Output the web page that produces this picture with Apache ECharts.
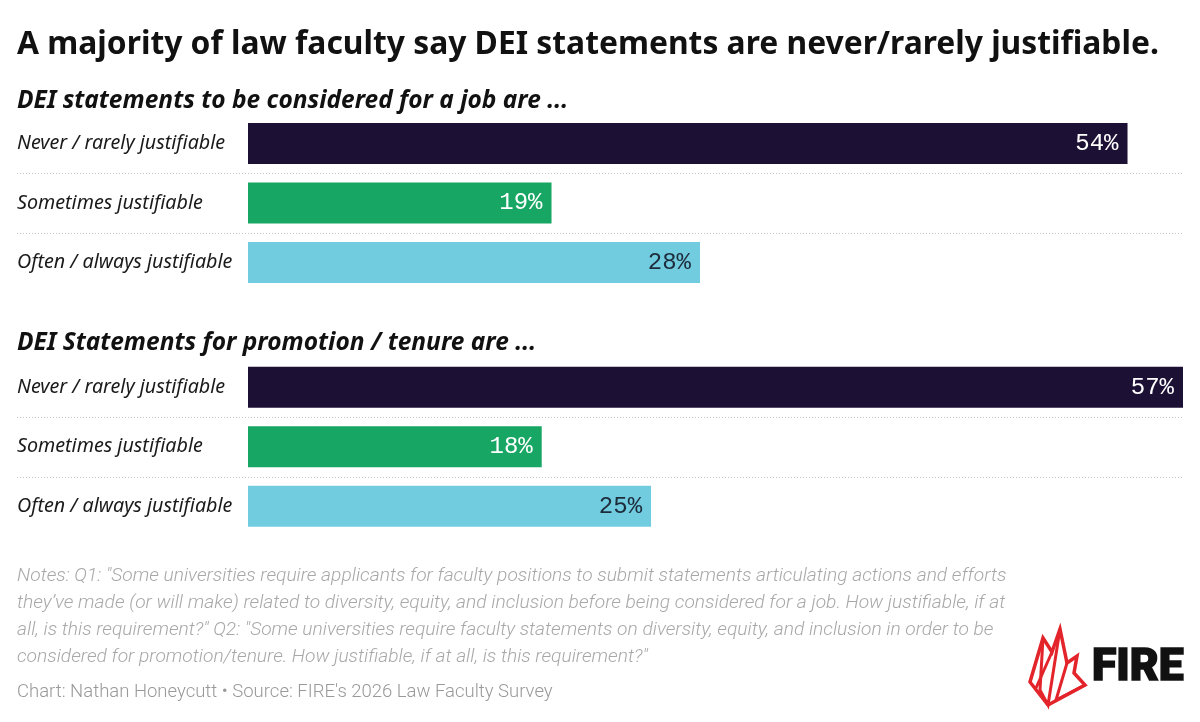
<!DOCTYPE html>
<html>
<head>
<meta charset="utf-8">
<script src="https://cdn.jsdelivr.net/npm/echarts@6/dist/echarts.min.js"></script>
<style>
  html, body { margin: 0; padding: 0; background: #fff; }
  #chart { width: 1200px; height: 722px; }
</style>
</head>
<body>
<div id="chart"></div>
<script>
// data
var categories = ["Never / rarely justifiable", "Sometimes justifiable", "Often / always justifiable"];
var jobValues = [53.9, 18.6, 27.7];
var tenureValues = [57.3, 18.0, 24.7];

var barColors = ["#1d1035", "#17a663", "#71cce0"];
var labelColors = ["#ffffff", "#ffffff", "#1d2b3a"];

var titleText = "A majority of law faculty say DEI statements are never/rarely justifiable.";
var sub1 = "DEI statements to be considered for a job are ...";
var sub2 = "DEI Statements for promotion / tenure are ...";
var notes = [
  "Notes: Q1: \"Some universities require applicants for faculty positions to submit statements articulating actions and efforts",
  "they\u2019ve made (or will make) related to diversity, equity, and inclusion before being considered for a job. How justifiable, if at",
  "all, is this requirement?\" Q2: \"Some universities require faculty statements on diversity, equity, and inclusion in order to be",
  "considered for promotion/tenure. How justifiable, if at all, is this requirement?\""
];
var source = "Chart: Nathan Honeycutt \u2022 Source: FIRE's 2026 Law Faculty Survey";

var xMax = 57.3;
var rowH = 59.5;
var gridTops = [113.75, 357.5];
var sansFont = "'Noto Sans', sans-serif";

var myChart = echarts.init(document.getElementById('chart'));

function makeData(vals) {
  return vals.map(function (v, i) {
    return {
      value: v,
      itemStyle: { color: barColors[i] },
      label: { color: labelColors[i] }
    };
  });
}

function txt(x, y, text, size, weight, style, color, family) {
  return {
    type: 'text', x: x, y: y, silent: true,
    style: {
      text: text, fontSize: size, fontWeight: weight, fontStyle: style,
      fontFamily: family || sansFont, fill: color,
      textAlign: 'left', textVerticalAlign: 'middle', align: 'left', verticalAlign: 'middle'
    }
  };
}

// dotted separators between rows
var graphics = [];
gridTops.forEach(function (t) {
  [1, 2].forEach(function (k) {
    var y = Math.round(t + rowH * k) + 0.5;
    graphics.push({
      type: 'line', silent: true,
      shape: { x1: 17, y1: y, x2: 1183, y2: y },
      style: { stroke: '#c4c4c4', lineWidth: 1, lineDash: [1, 2] }
    });
  });
});

graphics.push(txt(17, 45, titleText, 31.8, 'bold', 'normal', '#111'));
graphics.push(txt(17, 101, sub1, 24.5, 'bold', 'italic', '#111'));
graphics.push(txt(17, 343, sub2, 24.5, 'bold', 'italic', '#111'));
notes.forEach(function (line, i) {
  graphics.push(txt(17, 576 + i * 27, line, 19.2, 300, 'italic', '#a8a8a8', "Roboto, sans-serif"));
});
graphics.push(txt(17, 692, source, 18.5, 300, 'normal', '#999', "Roboto, sans-serif"));

// FIRE logo
graphics.push({
  type: 'polyline', silent: true,
  shape: { points: [[1048, 705], [1030, 682], [1043, 638], [1052, 652], [1060, 629], [1067, 663], [1077, 656], [1074, 673], [1085, 685], [1048, 705]] },
  style: { stroke: '#e3242b', lineWidth: 3.5, fill: null, lineJoin: 'miter' }
});
graphics.push({
  type: 'polyline', silent: true,
  shape: { points: [[1043, 638], [1040, 690], [1048, 705], [1060, 629]] },
  style: { stroke: '#e3242b', lineWidth: 3, fill: null }
});
graphics.push({
  type: 'polyline', silent: true,
  shape: { points: [[1052, 652], [1036, 688]] },
  style: { stroke: '#e3242b', lineWidth: 3, fill: null }
});
graphics.push({
  type: 'polyline', silent: true,
  shape: { points: [[1067, 663], [1056, 700], [1085, 685]] },
  style: { stroke: '#e3242b', lineWidth: 3, fill: null }
});
graphics.push({
  type: 'text', x: 1092, y: 669, silent: true,
  style: {
    text: 'FIRE', fontSize: 44.5, fontWeight: 900, fontFamily: "Roboto, sans-serif",
    fill: '#111', stroke: '#111', lineWidth: 1.5,
    textAlign: 'left', textVerticalAlign: 'middle', align: 'left', verticalAlign: 'middle'
  }
});

function yAxisFor(idx) {
  return {
    type: 'category', gridIndex: idx, inverse: true, data: categories,
    axisLine: { show: false }, axisTick: { show: false }, splitLine: { show: false },
    axisLabel: {
      align: 'left', margin: 231, fontSize: 19.7, fontStyle: 'italic',
      fontFamily: sansFont, color: '#1a1a1a'
    }
  };
}
function xAxisFor(idx) {
  return {
    type: 'value', gridIndex: idx, min: 0, max: xMax, show: false
  };
}
function seriesFor(idx, vals) {
  return {
    type: 'bar', xAxisIndex: idx, yAxisIndex: idx, barWidth: 41,
    data: makeData(vals), silent: true,
    label: {
      show: true, position: 'insideRight', distance: 9,
      fontSize: 24, fontFamily: "'Liberation Mono', monospace",
      formatter: function (p) { return Math.round(p.value) + '%'; }
    }
  };
}

var option = {
  animation: false,
  backgroundColor: '#ffffff',
  grid: [
    { left: 248, right: 17, top: gridTops[0], height: rowH * 3 },
    { left: 248, right: 17, top: gridTops[1], height: rowH * 3 }
  ],
  xAxis: [xAxisFor(0), xAxisFor(1)],
  yAxis: [yAxisFor(0), yAxisFor(1)],
  series: [seriesFor(0, jobValues), seriesFor(1, tenureValues)],
  graphic: graphics
};
myChart.setOption(option);
</script>
</body>
</html>
